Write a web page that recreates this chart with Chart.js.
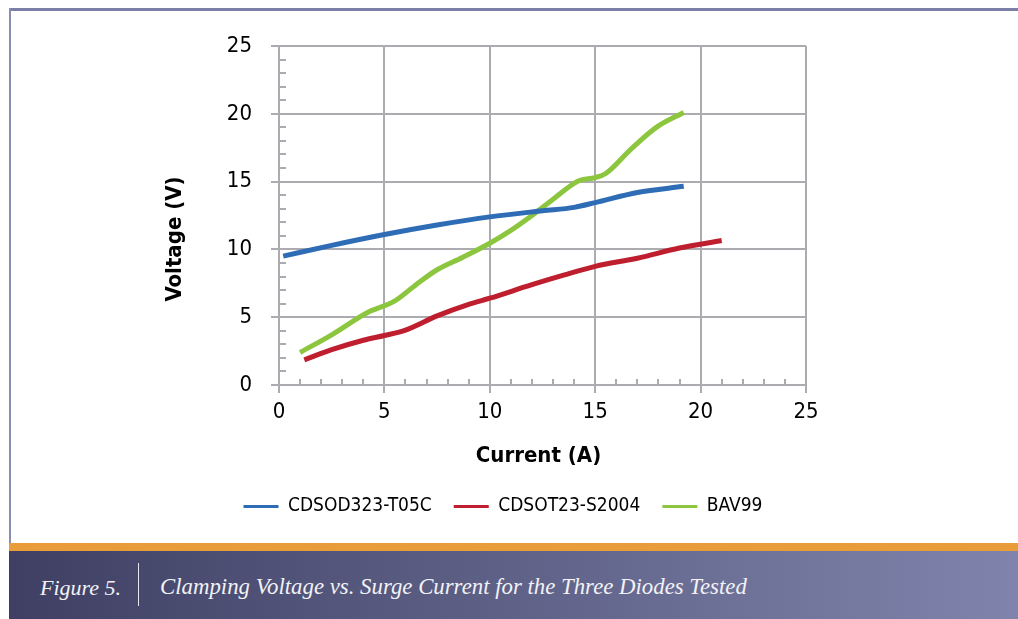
<!DOCTYPE html>
<html>
<head>
<meta charset="utf-8">
<script src="https://cdn.jsdelivr.net/npm/chart.js@4/dist/chart.umd.min.js"></script>
<style>
  html, body { margin: 0; padding: 0; background: #fff; }
  body { width: 1018px; height: 619px; position: relative; overflow: hidden; }
  #wrap { position: absolute; left: 0; top: 0; width: 1018px; height: 543px; }
  .topline { position: absolute; left: 9px; top: 8px; width: 1009px; height: 3px; background: #7b7fa7; }
  .leftline { position: absolute; left: 9px; top: 8px; width: 2px; height: 536px; background: #8a8db2; }
  .orange { position: absolute; left: 9px; top: 543px; right: 0; height: 8px; background: #e99c3a; }
  .caption { position: absolute; left: 9px; top: 551px; right: 0; bottom: 0;
             background: linear-gradient(to right, #3e3f63, #8084ac); color: #f2f2f6;
             font-family: "Liberation Serif", "DejaVu Serif", serif; font-style: italic; font-size: 22px; }
  .fig { position: absolute; left: 31px; top: 24px; }
  .sep { position: absolute; left: 129px; top: 12px; width: 1px; height: 43px; background: #e6e6ee; }
  .ttl { position: absolute; left: 151px; top: 23px; font-size: 22.8px; }
</style>
</head>
<body>
<div id="wrap"><canvas id="chart" width="1018" height="543"></canvas></div>
<div class="topline"></div>
<div class="leftline"></div>
<div class="orange"></div>
<div class="caption">
  <span class="fig">Figure 5.</span>
  <div class="sep"></div>
  <span class="ttl">Clamping Voltage vs. Surge Current for the Three Diodes Tested</span>
</div>
<script>
// valores (corriente A, tensión V)
const serieNombres = ['CDSOD323-T05C', 'CDSOT23-S2004', 'BAV99'];
const colores = ['#2e6cb6', '#be1e2d', '#8cc63f'];

const t05cX = [0.2, 2.5, 5, 7.5, 10, 12.5, 14, 15, 17, 19.2];
const t05cY = [9.5, 10.3, 11.1, 11.8, 12.4, 12.85, 13.1, 13.45, 14.2, 14.65];

const s2004X = [1.2, 2.5, 4, 5, 6, 7.5, 9, 10, 12, 13.5, 15, 17, 19, 21];
const s2004Y = [1.85, 2.6, 3.3, 3.65, 4.05, 5.1, 5.95, 6.4, 7.4, 8.1, 8.75, 9.35, 10.1, 10.65];

const bav99X = [1, 2.5, 4.2, 5.5, 6.5, 7.5, 8.7, 10, 11, 12, 13, 14.2, 15, 15.5, 16.7, 17.9, 19.2];
const bav99Y = [2.4, 3.7, 5.35, 6.2, 7.4, 8.5, 9.4, 10.45, 11.4, 12.5, 13.7, 15.05, 15.3, 15.6, 17.4, 19.0, 20.1];

const ejeMin = 0, ejeMax = 25, pasoMayor = 5;
const tituloX = 'Current (A)';
const tituloY = 'Voltage (V)';

const FUENTE = '"Liberation Sans Narrow", "DejaVu Sans Condensed", "Liberation Sans", sans-serif';
const GRIS = '#acacb0';

const pares = (xs, ys) => xs.map((x, i) => ({ x, y: ys[i] }));
const esMayor = v => Math.abs(v % pasoMayor) < 1e-6;

// marcas menores hacia dentro + títulos de ejes
const extras = {
  id: 'extras',
  afterDraw(chart) {
    const { ctx, chartArea: a, scales: { x, y } } = chart;
    ctx.save();
    ctx.strokeStyle = GRIS;
    ctx.lineWidth = 2;
    ctx.beginPath();
    for (let v = ejeMin + 1; v < ejeMax; v++) {
      if (esMayor(v)) continue;
      const py = Math.round(y.getPixelForValue(v));
      ctx.moveTo(a.left, py); ctx.lineTo(a.left + 7, py);
      const px = Math.round(x.getPixelForValue(v));
      ctx.moveTo(px, a.bottom); ctx.lineTo(px, a.bottom - 6);
    }
    ctx.stroke();
    ctx.fillStyle = '#000';
    ctx.font = 'bold 22px ' + FUENTE;
    ctx.textAlign = 'center';
    ctx.textBaseline = 'middle';
    ctx.fillText(tituloX, (a.left + a.right) / 2 - 4, 456);
    ctx.translate(175, 239);
    ctx.rotate(-Math.PI / 2);
    ctx.fillText(tituloY, 0, 0);
    ctx.restore();
  },
  afterLayout(chart) {
    if (chart.legend) chart.legend.left = 200;
  }
};

const ejeComun = (extra) => Object.assign({
  type: 'linear', min: ejeMin, max: ejeMax,
  border: { color: GRIS, width: 2 },
  grid: {
    lineWidth: 2,
    color: c => esMayor(c.tick.value) ? GRIS : 'rgba(0,0,0,0)',
    tickColor: c => esMayor(c.tick.value) ? GRIS : 'rgba(0,0,0,0)'
  }
}, extra);

new Chart(document.getElementById('chart'), {
  type: 'line',
  data: {
    datasets: [
      { label: serieNombres[0], data: pares(t05cX, t05cY), borderColor: colores[0], backgroundColor: colores[0] },
      { label: serieNombres[1], data: pares(s2004X, s2004Y), borderColor: colores[1], backgroundColor: colores[1] },
      { label: serieNombres[2], data: pares(bav99X, bav99Y), borderColor: colores[2], backgroundColor: colores[2] }
    ].map(d => Object.assign(d, { borderWidth: 5, pointRadius: 0, tension: 0.4, cubicInterpolationMode: 'monotone', fill: false }))
  },
  options: {
    responsive: false,
    animation: false,
    layout: { padding: { left: 150, right: 212, top: 46, bottom: 17 } },
    scales: {
      x: ejeComun({
        ticks: { stepSize: 1, autoSkip: false, maxRotation: 0, padding: 6, color: '#000',
                 font: { family: FUENTE, size: 22 }, callback: v => esMayor(v) ? String(v) : '' },
        afterFit: s => { s.height = 90; }
      }),
      y: ejeComun({
        ticks: { stepSize: 1, autoSkip: false, padding: 19, color: '#000',
                 font: { family: FUENTE, size: 22 }, callback: v => esMayor(v) ? String(v) : '' },
        afterFit: s => { s.width = 129; }
      })
    },
    plugins: {
      tooltip: { enabled: false },
      legend: {
        position: 'bottom',
        labels: {
          boxWidth: 35, boxHeight: 3, padding: 22, color: '#000',
          font: { family: FUENTE, size: 19 },
          generateLabels: chart => chart.data.datasets.map((d, i) => ({
            text: d.label, fillStyle: d.borderColor, strokeStyle: d.borderColor,
            lineWidth: 0, datasetIndex: i, hidden: false
          }))
        }
      }
    }
  },
  plugins: [extras]
});
</script>
</body>
</html>
